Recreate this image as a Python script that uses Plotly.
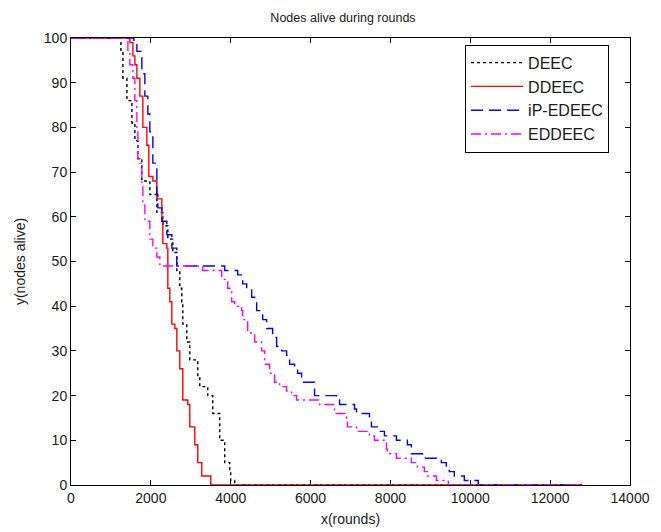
import plotly.graph_objects as go

# ---- data (rounds, nodes alive) ----
deec_rounds = [0, 1200, 1250, 1300, 1400, 1525, 1600, 1675, 1775, 1975, 2150, 2300, 2425, 2550,
               2650, 2725, 2775, 2800, 2900, 2975, 3175, 3225, 3425, 3550, 3725, 3850, 3975,
               4000, 4100, 12800]
deec_alive = [100, 100, 97, 91, 86, 81, 77, 73, 68, 65, 61, 58, 55, 52,
              48, 44, 41, 36, 32, 28, 24, 22, 20, 16, 10, 5, 3,
              1, 0, 0]

ddeec_rounds = [0, 1350, 1475, 1550, 1600, 1650, 1725, 1800, 1900, 1950, 2050, 2150, 2275, 2300,
                2400, 2425, 2475, 2525, 2600, 2650, 2725, 2800, 2925, 2975, 3100, 3175, 3275,
                3500, 12800]
ddeec_alive = [100, 100, 99, 96, 94, 91, 87, 80, 76, 69, 68, 64, 59, 54,
               53, 44, 41, 36, 35, 30, 26, 19, 18, 13, 9, 5, 2,
               0, 0]

ipedeec_rounds = [0, 1525, 1575, 1650, 1775, 1850, 1925, 1975, 2050, 2150, 2175, 2275, 2400, 2525,
                  2650, 3850, 4175, 4300, 4400, 4525, 4600, 4650, 4800, 4900, 5050, 5150, 5275,
                  5400, 5475, 5600, 5675, 5775, 6100, 6650, 6725, 7100, 7150, 7475, 7525, 7675,
                  7850, 8150, 8425, 8525, 8850, 9275, 9400, 9475, 9600, 9850, 10200, 12800]
ipedeec_alive = [100, 100, 99, 97, 92, 87, 83, 79, 72, 65, 62, 59, 56, 53,
                 49, 48, 47, 45, 44, 42, 41, 39, 37, 35, 33, 31, 30,
                 29, 27, 26, 25, 23, 20, 19, 18, 17, 16, 15, 13, 12,
                 11, 10, 9, 7, 6, 5, 4, 3, 2, 1, 0, 0]

eddeec_rounds = [0, 1400, 1425, 1475, 1550, 1600, 1650, 1675, 1725, 1775, 1800, 1850, 1975, 2050,
                 2150, 2225, 3300, 3775, 3925, 4025, 4100, 4275, 4300, 4425, 4600, 4775, 4850,
                 4975, 5100, 5225, 5400, 5525, 5650, 6225, 6600, 6900, 6925, 7150, 7475, 7600,
                 7900, 7925, 8150, 8525, 8675, 8850, 8925, 9150, 9450, 12800]
eddeec_alive = [100, 100, 97, 94, 91, 86, 79, 73, 72, 67, 63, 59, 55, 53,
                51, 49, 48, 46, 44, 41, 40, 39, 37, 34, 32, 30, 27,
                25, 23, 22, 21, 20, 19, 18, 16, 15, 13, 12, 11, 10,
                8, 7, 6, 5, 4, 3, 2, 1, 0, 0]

x_ticks = [0, 2000, 4000, 6000, 8000, 10000, 12000, 14000]
y_ticks = [0, 10, 20, 30, 40, 50, 60, 70, 80, 90, 100]

FONT = "Liberation Sans, Arial, sans-serif"
TXT = "#1a1a1a"

fig = go.Figure()
fig.add_trace(go.Scatter(x=deec_rounds, y=deec_alive, name="DEEC", mode="lines", legendgroup="a",
                         line=dict(color="black", width=1.4, dash="3px,3px", shape="hv")))
fig.add_trace(go.Scatter(x=ddeec_rounds, y=ddeec_alive, name="DDEEC", mode="lines", legendgroup="b",
                         line=dict(color="#ff0000", width=1.4, shape="hv")))
fig.add_trace(go.Scatter(x=ipedeec_rounds, y=ipedeec_alive, name="iP-EDEEC", mode="lines", legendgroup="c",
                         line=dict(color="#0000ff", width=1.4, dash="12px,6px", shape="hv")))
fig.add_trace(go.Scatter(x=eddeec_rounds, y=eddeec_alive, name="EDDEEC", mode="lines", legendgroup="d",
                         line=dict(color="#ff00ff", width=1.4, dash="10px,4px,2px,4px", shape="hv")))

axis_common = dict(showline=True, linecolor="black", linewidth=1, mirror="ticks",
                   ticks="inside", ticklen=5, tickcolor="black", showgrid=False, zeroline=False,
                   tickfont=dict(family=FONT, size=14, color=TXT), layer="below traces",
                   automargin=False)

fig.update_layout(
    width=653, height=524,
    paper_bgcolor="white", plot_bgcolor="white",
    margin=dict(l=63, r=31, t=30, b=47),
    title=dict(text="Nodes alive during rounds", x=0.513, xanchor="center", y=0.981, yanchor="middle",
               font=dict(family=FONT, size=12.5, color=TXT)),
    xaxis=dict(range=[0, 14000], tickvals=x_ticks, ticktext=[str(v) for v in x_ticks],
               title=dict(text="x(rounds)", font=dict(family=FONT, size=14, color=TXT), standoff=9),
               **axis_common),
    yaxis=dict(range=[0, 100], tickvals=y_ticks, ticktext=[str(v) for v in y_ticks],
               title=dict(text="y(nodes alive)", font=dict(family=FONT, size=14, color=TXT), standoff=14),
               **axis_common),
    legend=dict(x=0.705, y=0.985, xanchor="left", yanchor="top", bgcolor="white",
                bordercolor="black", borderwidth=1, font=dict(family=FONT, size=16, color=TXT),
                tracegroupgap=0, itemwidth=52),
    showlegend=True,
)

fig.write_html("out.html")
